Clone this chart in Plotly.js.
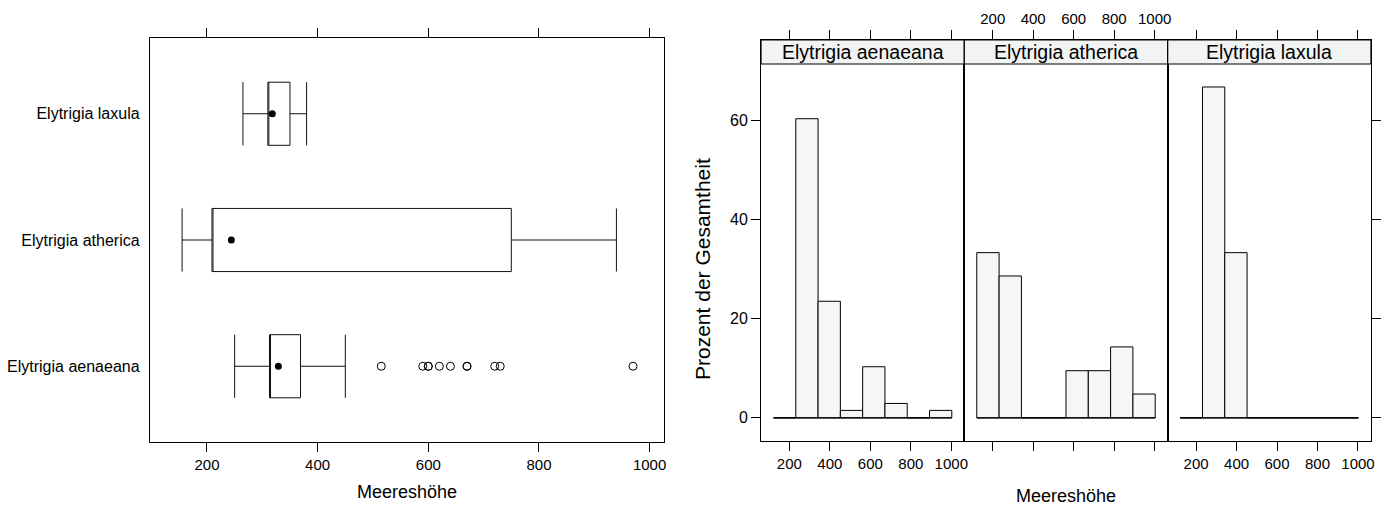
<!DOCTYPE html>
<html>
<head>
<meta charset="utf-8">
<script src="https://cdn.plot.ly/plotly-3.0.1.min.js"></script>
<style>
  html, body { margin: 0; padding: 0; background: #ffffff; }
  #chart { width: 1386px; height: 508px; }
</style>
</head>
<body>
<div id="chart"></div>
<script>
// ---------------- data ----------------
const species = ['Elytrigia aenaeana', 'Elytrigia atherica', 'Elytrigia laxula'];
const boxLower  = [250, 155, 265];
const boxQ1     = [313, 209, 310];
const boxMedian = [329, 244, 318];
const boxQ3     = [369, 750, 350];
const boxUpper  = [450, 940, 380];
const outliersAenaeana = [515, 590, 600, 600, 620, 640, 670, 670, 720, 730, 970];

const breaks = [121.4, 231.6, 341.7, 451.9, 562.0, 672.2, 782.3, 892.5, 1002.6];
const pctAenaeana = [0, 60.3, 23.5, 1.5, 10.3, 2.9, 0, 1.5];
const pctAtherica = [33.3, 28.6, 0, 0, 9.5, 9.5, 14.3, 4.8];
const pctLaxula   = [0, 66.7, 33.3, 0, 0, 0, 0, 0];

const xTicks = [200, 400, 600, 800, 1000];
const yTicks = [0, 20, 40, 60];
const xTitle = 'Meereshöhe';
const yTitle = 'Prozent der Gesamtheit';

// ---------------- helpers ----------------
const W = 1386, H = 508;
const FONT = 'Liberation Sans, Arial, Helvetica, sans-serif';
const px = v => v / W;
const py = v => 1 - v / H;

const binCenters = breaks.slice(0, -1).map((b, i) => (b + breaks[i + 1]) / 2);
const binWidths  = breaks.slice(0, -1).map((b, i) => breaks[i + 1] - b);

const traces = [];

// Box plot (lattice style: median shown as a dot, so the box's own median line sits on Q1)
traces.push({
  type: 'box', orientation: 'h',
  y: species, q1: boxQ1, median: boxQ1, q3: boxQ3,
  lowerfence: boxLower, upperfence: boxUpper,
  boxpoints: false, width: 0.5, whiskerwidth: 1,
  line: { color: '#111111', width: 1 },
  fillcolor: 'rgba(0,0,0,0)',
  xaxis: 'x', yaxis: 'y', hoverinfo: 'skip', showlegend: false
});
traces.push({
  type: 'scatter', mode: 'markers',
  x: boxMedian, y: species,
  marker: { symbol: 'circle', size: 7, color: '#000000' },
  xaxis: 'x', yaxis: 'y', showlegend: false
});
traces.push({
  type: 'scatter', mode: 'markers',
  x: outliersAenaeana, y: outliersAenaeana.map(() => species[0]),
  marker: { symbol: 'circle-open', size: 8, color: '#000000', line: { width: 1, color: '#000000' } },
  xaxis: 'x', yaxis: 'y', showlegend: false
});

// Histograms
const panels = [
  { pct: pctAenaeana, xa: 'x2', ya: 'y2' },
  { pct: pctAtherica, xa: 'x3', ya: 'y3' },
  { pct: pctLaxula,   xa: 'x4', ya: 'y4' }
];
panels.forEach(p => {
  traces.push({
    type: 'scatter', mode: 'lines',
    x: [breaks[0], breaks[breaks.length - 1]], y: [0, 0],
    line: { color: '#000000', width: 1.2 },
    xaxis: p.xa, yaxis: p.ya, showlegend: false, hoverinfo: 'skip'
  });
  traces.push({
    type: 'bar', x: binCenters, y: p.pct, width: binWidths,
    marker: { color: '#f5f6f5', line: { color: '#000000', width: 1 } },
    xaxis: p.xa, yaxis: p.ya, showlegend: false
  });
});

// ---------------- layout ----------------
const tickFont = { family: FONT, size: 15, color: '#000000' };
const catFont = { family: FONT, size: 16, color: '#000000' };
const yTickFont = { family: FONT, size: 16, color: '#000000' };
const titleFont = { family: FONT, size: 18, color: '#000000' };

const leftDomX = [px(150), px(664)];
const leftDomY = [py(442), py(38)];
const rightDomY = [py(441), py(40)];
const pEdges = [761, 964.3, 1167.7, 1371];
const xRangeH = [59.7, 1064.3];
const yRangeH = [-4.67, 76.17];

function histX(i, labelSide) {
  return {
    domain: [px(pEdges[i]), px(pEdges[i + 1])],
    anchor: 'y' + (i + 2),
    range: xRangeH, tickvals: xTicks,
    side: labelSide === 'top' ? 'top' : 'bottom',
    showticklabels: labelSide !== 'none',
    ticks: 'outside', ticklen: 9, tickcolor: '#000', tickwidth: 1,
    showline: true, linecolor: '#000', linewidth: 1.2, mirror: 'ticks',
    showgrid: false, zeroline: false, tickfont: tickFont, fixedrange: true
  };
}
function histY(i, opts) {
  return Object.assign({
    domain: rightDomY, anchor: 'x' + (i + 2),
    range: yRangeH, tickvals: yTicks,
    showline: true, linecolor: '#000', linewidth: 1, mirror: true,
    showgrid: false, zeroline: false, tickfont: yTickFont, fixedrange: true
  }, opts);
}

const shapes = [];
const annotations = [];
for (let i = 0; i < 3; i++) {
  shapes.push({
    type: 'rect', xref: 'paper', yref: 'paper', layer: 'above',
    x0: px(pEdges[i]), x1: px(pEdges[i + 1]), y0: py(64), y1: py(40),
    fillcolor: '#f2f3f3', line: { color: '#000000', width: 1.2 }
  });
  annotations.push({
    xref: 'paper', yref: 'paper',
    x: (px(pEdges[i]) + px(pEdges[i + 1])) / 2, y: py(52),
    text: species[i], showarrow: false,
    xanchor: 'center', yanchor: 'middle',
    font: { family: FONT, size: 19.5, color: '#000000' }
  });
}
annotations.push({
  xref: 'paper', yref: 'paper', x: px(1066), y: py(496),
  text: xTitle, showarrow: false, xanchor: 'center', yanchor: 'middle', font: titleFont
});
annotations.push({
  xref: 'paper', yref: 'paper', x: px(702), y: py(269),
  text: yTitle, showarrow: false, textangle: -90,
  xanchor: 'center', yanchor: 'middle',
  font: { family: FONT, size: 21, color: '#000000' }
});

const layout = {
  width: W, height: H,
  margin: { l: 0, r: 0, t: 0, b: 0, pad: 0 },
  paper_bgcolor: '#ffffff', plot_bgcolor: 'rgba(0,0,0,0)',
  showlegend: false, bargap: 0,
  font: { family: FONT, color: '#000000' },
  xaxis: {
    domain: leftDomX, anchor: 'y', range: [97, 1026], tickvals: xTicks,
    ticks: 'outside', ticklen: 9, tickcolor: '#000', tickwidth: 1,
    showline: true, linecolor: '#000', linewidth: 1.2, mirror: 'ticks',
    showgrid: false, zeroline: false, tickfont: tickFont,
    title: { text: xTitle, font: titleFont, standoff: 13 }, fixedrange: true
  },
  yaxis: {
    domain: leftDomY, anchor: 'x', type: 'category',
    categoryorder: 'array', categoryarray: species, range: [-0.6, 2.6],
    showline: true, linecolor: '#000', linewidth: 1.2, mirror: true,
    ticks: '', showgrid: false, zeroline: false,
    tickfont: catFont, ticklabelstandoff: 6, fixedrange: true
  },
  xaxis2: histX(0, 'bottom'),
  xaxis3: histX(1, 'top'),
  xaxis4: histX(2, 'bottom'),
  yaxis2: histY(0, { side: 'left', ticks: 'outside', ticklen: 9, tickcolor: '#000', showticklabels: true }),
  yaxis3: histY(1, { ticks: '', showticklabels: false }),
  yaxis4: histY(2, { side: 'right', ticks: 'outside', ticklen: 9, tickcolor: '#000', showticklabels: false }),
  shapes: shapes,
  annotations: annotations
};

Plotly.newPlot('chart', traces, layout, { staticPlot: true, displayModeBar: false });
</script>
</body>
</html>
